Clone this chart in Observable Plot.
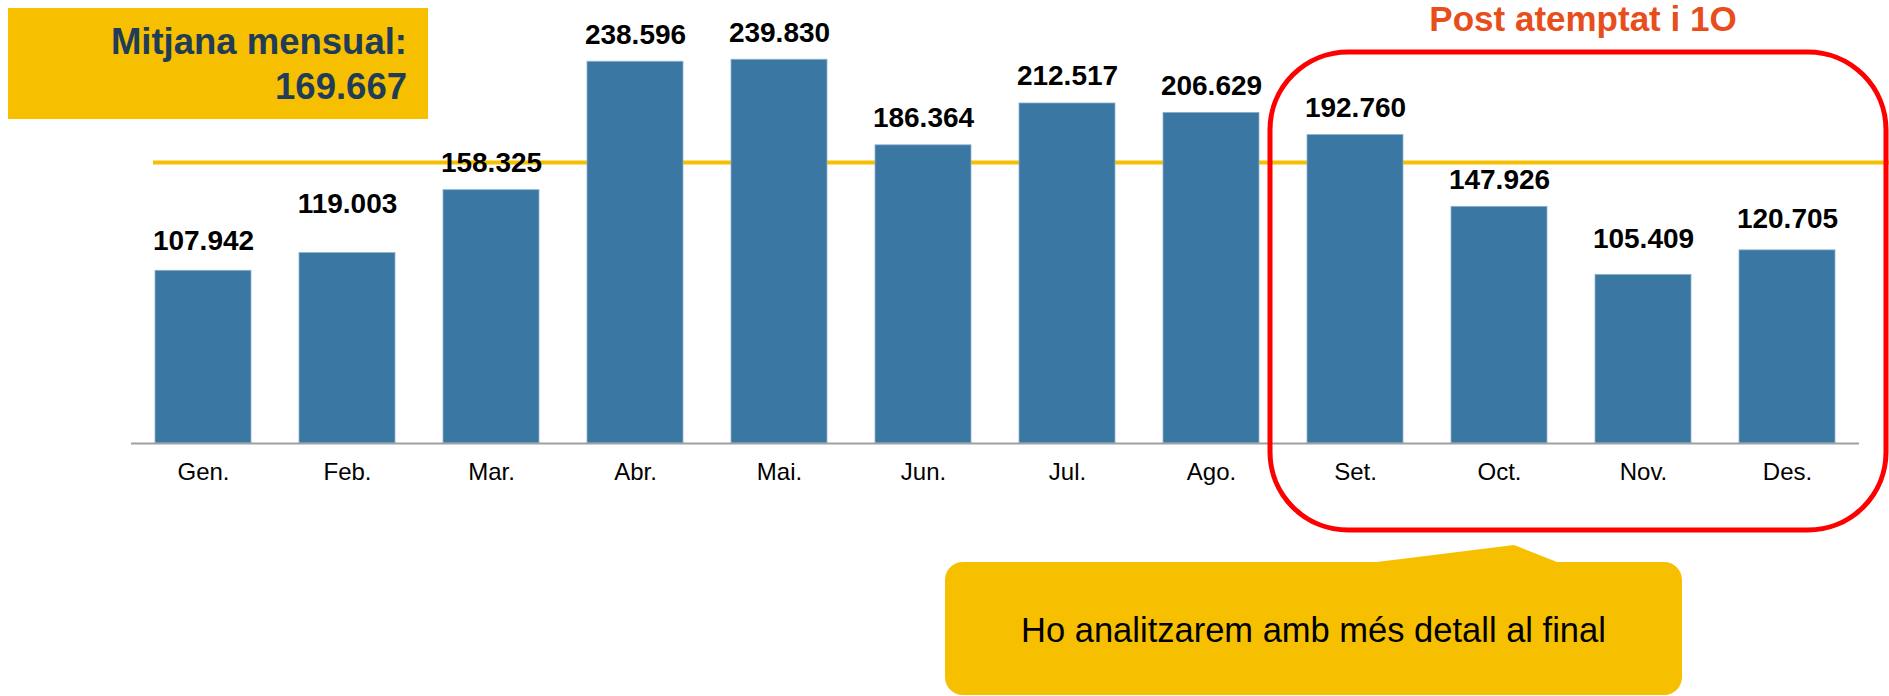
<!DOCTYPE html>
<html>
<head>
<meta charset="utf-8">
<script src="https://cdn.jsdelivr.net/npm/d3@7"></script>
<script src="https://cdn.jsdelivr.net/npm/@observablehq/plot@0.6"></script>
<style>
  html, body { margin: 0; padding: 0; background: #fff; overflow: hidden; }
  #chart svg { display: block; }
</style>
</head>
<body>
<div id="chart"></div>
<script>
// ---- Data ----
const months = ["Gen.", "Feb.", "Mar.", "Abr.", "Mai.", "Jun.", "Jul.", "Ago.", "Set.", "Oct.", "Nov.", "Des."];
const visitors = [107942, 119003, 158325, 238596, 239830, 186364, 212517, 206629, 192760, 147926, 105409, 120705];
const averageText = ["Mitjana mensual:", "169.667"];
const averageLineLevel = 175600; // level at which the reference draws its average line
const highlightMonths = ["Set.", "Oct.", "Nov.", "Des."];
const highlightTitle = "Post atemptat i 1O";
const calloutText = "Ho analitzarem amb més detall al final";

// ---- Build ----
const data = months.map((m, i) => ({month: m, value: visitors[i]}));
const fmt = v => d3.format(",")(v).replace(/,/g, ".");
const FONT = "'Liberation Sans', Arial, Helvetica, sans-serif";
const YELLOW = "#f6c000";

// label lifts above bar tops (the reference places a few labels a bit higher)
const labelLift = {"Gen.": 21, "Feb.": 40, "Nov.": 27, "Des.": 22};
const liftOf = m => labelLift[m] ?? 18;
const lifts = Array.from(new Set(months.map(liftOf)));

const chart = Plot.plot({
  width: 1889,
  height: 696,
  marginLeft: 131,
  marginRight: 30,
  marginTop: 43,
  marginBottom: 253,
  style: {fontFamily: FONT, fontSize: "24px", background: "#fff", color: "#000", overflow: "hidden"},
  x: {domain: months, paddingInner: 1 / 3, paddingOuter: 1 / 6, round: false, label: null, tickSize: 0, tickPadding: 19},
  y: {domain: [0, 250000], axis: null, nice: false},
  marks: [
    Plot.ruleY([averageLineLevel], {stroke: YELLOW, strokeWidth: 4, insetLeft: 22, insetRight: -30}),
    Plot.barY(data, {x: "month", y: "value", fill: "#3a77a2", stroke: "#8fb2cf", strokeWidth: 0.8}),
    Plot.ruleY([0], {stroke: "#a0a0a0", strokeWidth: 2}),
    ...lifts.map(l => Plot.text(data.filter(d => liftOf(d.month) === l), {
      x: "month", y: "value", text: d => fmt(d.value),
      dy: -l, lineAnchor: "bottom", fontSize: 28, fontWeight: "bold", fill: "#000"
    }))
  ]
});

document.getElementById("chart").appendChild(chart);

// ---- Annotations ----
const svg = d3.select(chart);
const xs = chart.scale("x");
const bw = xs.bandwidth;

// Average box (top-left)
svg.append("rect").attr("x", 8).attr("y", 8).attr("width", 420).attr("height", 111).attr("fill", YELLOW);
svg.append("text").attr("x", 407).attr("y", 54).attr("text-anchor", "end")
  .attr("font-family", FONT).attr("font-size", 36.5).attr("font-weight", "bold").attr("fill", "#203c58")
  .text(averageText[0]);
svg.append("text").attr("x", 407).attr("y", 99).attr("text-anchor", "end")
  .attr("font-family", FONT).attr("font-size", 36.5).attr("font-weight", "bold").attr("fill", "#203c58")
  .text(averageText[1]);

// Highlight rounded box around last four months
const hx0 = xs.apply(highlightMonths[0]) - 37;
const hx1 = xs.apply(highlightMonths[highlightMonths.length - 1]) + bw + 51;
svg.append("rect").attr("x", hx0).attr("y", 52).attr("width", hx1 - hx0).attr("height", 478)
  .attr("rx", 78).attr("ry", 78).attr("fill", "none").attr("stroke", "#ff0000").attr("stroke-width", 5);
svg.append("text").attr("x", (hx0 + hx1) / 2 + 5).attr("y", 31).attr("text-anchor", "middle")
  .attr("font-family", FONT).attr("font-size", 35).attr("font-weight", "bold").attr("fill", "#e84e1c")
  .text(highlightTitle);

// Callout
const cx0 = 945, cx1 = 1682, cy0 = 562, cy1 = 695, r = 18;
const path = `M${cx0 + r},${cy0} L1377,${cy0} L1514,545 L1557,${cy0} L${cx1 - r},${cy0}
  A${r},${r} 0 0 1 ${cx1},${cy0 + r} L${cx1},${cy1 - r} A${r},${r} 0 0 1 ${cx1 - r},${cy1}
  L${cx0 + r},${cy1} A${r},${r} 0 0 1 ${cx0},${cy1 - r} L${cx0},${cy0 + r} A${r},${r} 0 0 1 ${cx0 + r},${cy0} Z`;
svg.append("path").attr("d", path).attr("fill", YELLOW);
svg.append("text").attr("x", (cx0 + cx1) / 2).attr("y", 642).attr("text-anchor", "middle")
  .attr("font-family", FONT).attr("font-size", 34.5).attr("fill", "#000")
  .text(calloutText);
</script>
</body>
</html>
